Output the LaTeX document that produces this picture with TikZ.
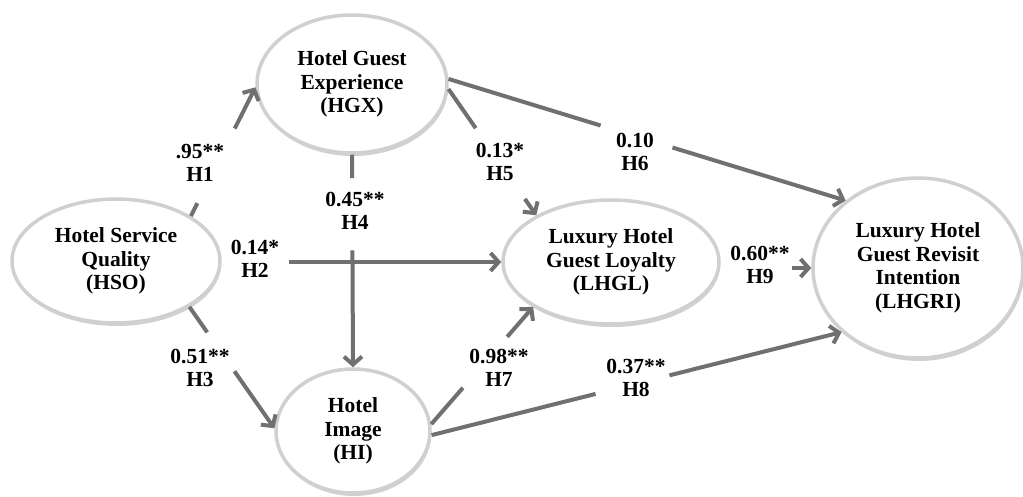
\documentclass[tikz,border=0pt]{standalone}
\usepackage{fontspec}
\setmainfont{Liberation Serif}
\usetikzlibrary{shapes.geometric,arrows.meta,shadows}
\definecolor{edgegray}{RGB}{112,112,112}
\definecolor{rimgray}{RGB}{208,208,208}
\begin{document}
\begin{tikzpicture}[x=1pt,y=-1pt,
  txt/.style={font=\bfseries\fontsize{21.5}{23.5}\selectfont, align=center},
  construct/.style={txt, ellipse, draw=rimgray, line width=3.5pt, fill=white, inner sep=0pt,
    drop shadow={opacity=0.3, shadow xshift=1pt, shadow yshift=-3pt, fill=black!60}},
  lab/.style={txt, inner sep=0pt},
  conn/.style={draw=edgegray, line width=4pt},
  arr/.style={conn, -{Straight Barb[length=8pt,width=18pt]}}]
\useasboundingbox (0,0) rectangle (1023,497);
% constructs
\node[construct, minimum width=208pt, minimum height=124pt] (hsq) at (116,261) {Hotel Service\\Quality\\(HSO)};
\node[construct, minimum width=190pt, minimum height=138pt] (hgx) at (352,84) {Hotel Guest\\Experience\\(HGX)};
\node[construct, minimum width=154pt, minimum height=124pt] (hi) at (353,431) {Hotel\\Image\\(HI)};
\node[construct, minimum width=216pt, minimum height=124pt] (lhgl) at (611,262) {Luxury Hotel\\Guest Loyalty\\(LHGL)};
\node[construct, minimum width=210pt, minimum height=180pt] (lhgri) at (918,268) {Luxury Hotel\\Guest Revisit\\Intention\\(LHGRI)};
% gap points
\path (hsq.31) -- (hgx.182) coordinate[pos=0.10] (h1a) coordinate[pos=0.68] (h1b);
\path (hgx.south) -- (hi.north) coordinate[pos=0.11] (h4a) coordinate[pos=0.45] (h4b);
\path (lhgl.west -| hsq.east) -- (lhgl.west) coordinate[pos=0.24] (h2b);
\path (hgx.-3) -- (lhgl.148) coordinate[pos=0.31] (h5a) coordinate[pos=0.87] (h5b);
\path (hgx.3) -- (lhgri.137) coordinate[pos=0.383] (h6a) coordinate[pos=0.564] (h6b);
\path (lhgri.west -| lhgl.east) -- (lhgri.west) coordinate[pos=0.79] (h9b);
\path (hsq.-32) -- (hi.178) coordinate[pos=0.21] (h3a) coordinate[pos=0.53] (h3b);
\path (hi.5) -- (lhgl.210) coordinate[pos=0.31] (h7a) coordinate[pos=0.745] (h7b);
\path (hi.-3) -- (lhgri.-140) coordinate[pos=0.40] (h8a) coordinate[pos=0.58] (h8b);
% connectors
\draw[conn] (hsq.31) -- (h1a);
\draw[arr] (h1b) -- (hgx.182);
\draw[conn] (hgx.south) -- (h4a);
\draw[arr] (h4b) -- (hi.north);
\draw[arr] (h2b) -- (lhgl.west);
\draw[conn] (hgx.-3) -- (h5a);
\draw[arr] (h5b) -- (lhgl.148);
\draw[conn] (hgx.3) -- (h6a);
\draw[arr] (h6b) -- (lhgri.137);
\draw[arr] (h9b) -- (lhgri.west);
\draw[conn] (hsq.-32) -- (h3a);
\draw[arr] (h3b) -- (hi.178);
\draw[conn] (hi.5) -- (h7a);
\draw[arr] (h7b) -- (lhgl.210);
\draw[conn] (hi.-3) -- (h8a);
\draw[arr] (h8b) -- (lhgri.-140);
% labels
\node[lab] (l1) at (200,163) {.95**\\H1};
\node[lab] (l4) at (355,211) {0.45**\\H4};
\node[lab] (l5) at (500,162) {0.13*\\H5};
\node[lab] (l6) at (635,152) {0.10\\H6};
\node[lab] (l2) at (255,259) {0.14*\\H2};
\node[lab] (l9) at (760,265) {0.60**\\H9};
\node[lab] (l3) at (200,368) {0.51**\\H3};
\node[lab] (l7) at (499,368) {0.98**\\H7};
\node[lab] (l8) at (636,378) {0.37**\\H8};
\end{tikzpicture}
\end{document}
